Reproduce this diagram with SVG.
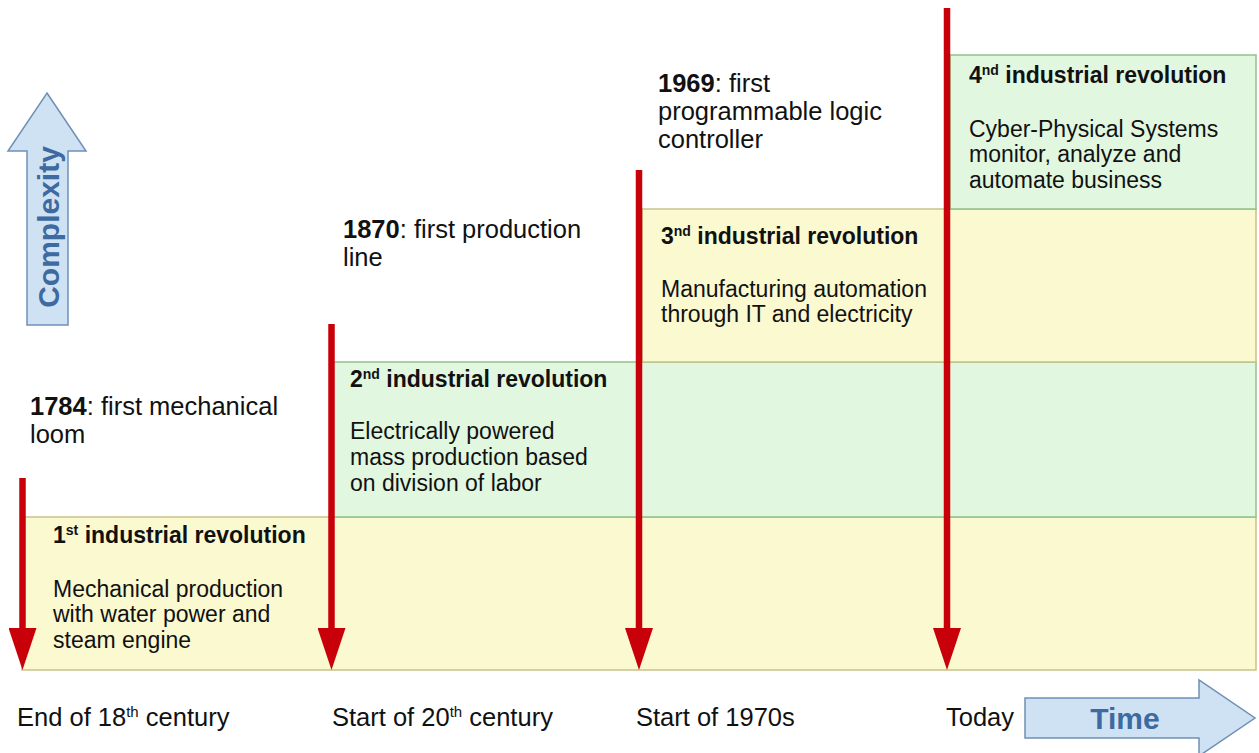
<svg xmlns="http://www.w3.org/2000/svg" width="1259" height="753" viewBox="0 0 1259 753">
<defs>
<style>
text{font-family:"Liberation Sans",Arial,sans-serif;fill:#111;}
.lbl{font-size:25.5px;}
.ttl{font-size:23px;font-weight:bold;}
.body{font-size:23px;}
.bot{font-size:25.5px;}
.big{font-size:30px;font-weight:bold;fill:#3d6aa0;}
.yel{fill:#fbf9d0;stroke:#c9c28a;stroke-width:1.5;}
.grn{fill:#e2f7e0;stroke:#8fc28c;stroke-width:1.5;}
.blu{fill:#cfe2f3;stroke:#6f90b6;stroke-width:1.5;}
.red{stroke:#c8000a;stroke-width:6.5;fill:none;}
</style>
<marker id="ah" markerUnits="userSpaceOnUse" markerWidth="42" markerHeight="28" viewBox="0 0 42 28" refX="0" refY="14" orient="auto">
<path d="M0,0 L42,14 L0,28 Z" fill="#c8000a"/>
</marker>
</defs>
<rect width="1259" height="753" fill="#fff"/>

<g id="band1">
<rect class="yel" x="22" y="517" width="1234" height="153"/>
<text class="ttl" x="53" y="543">1<tspan font-size="14" dy="-8">st</tspan><tspan dy="8"> industrial revolution</tspan></text>
<text class="body" x="53" y="597">Mechanical production</text>
<text class="body" x="53" y="622">with water power and</text>
<text class="body" x="53" y="648">steam engine</text>
</g>
<g id="band2">
<rect class="grn" x="333" y="362" width="923" height="155"/>
<text class="ttl" x="350" y="387">2<tspan font-size="14" dy="-8">nd</tspan><tspan dy="8"> industrial revolution</tspan></text>
<text class="body" x="350" y="439">Electrically powered</text>
<text class="body" x="350" y="465">mass production based</text>
<text class="body" x="350" y="491">on division of labor</text>
</g>
<g id="band3">
<rect class="yel" x="642" y="209" width="614" height="153"/>
<text class="ttl" x="661" y="244">3<tspan font-size="14" dy="-8">nd</tspan><tspan dy="8"> industrial revolution</tspan></text>
<text class="body" x="661" y="297">Manufacturing automation</text>
<text class="body" x="661" y="322">through IT and electricity</text>
</g>
<g id="band4">
<rect class="grn" x="950" y="55" width="306" height="154"/>
<text class="ttl" x="969" y="83">4<tspan font-size="14" dy="-8">nd</tspan><tspan dy="8"> industrial revolution</tspan></text>
<text class="body" x="969" y="137">Cyber-Physical Systems</text>
<text class="body" x="969" y="162">monitor, analyze and</text>
<text class="body" x="969" y="188">automate business</text>
</g>

<g id="event1784">
<text class="lbl" x="30" y="415"><tspan font-weight="bold">1784</tspan>: first mechanical</text>
<text class="lbl" x="30" y="443">loom</text>
</g>
<g id="event1870">
<text class="lbl" x="343" y="238"><tspan font-weight="bold">1870</tspan>: first production</text>
<text class="lbl" x="343" y="266">line</text>
</g>
<g id="event1969">
<text class="lbl" x="658" y="92"><tspan font-weight="bold">1969</tspan>: first</text>
<text class="lbl" x="658" y="120">programmable logic</text>
<text class="lbl" x="658" y="148">controller</text>
</g>

<g id="complexity">
<path class="blu" d="M47,93 L86,151 L68,151 L68,325 L27,325 L27,151 L8,151 Z"/>
<text class="big" text-anchor="middle" transform="translate(59,227) rotate(-90)">Complexity</text>
</g>
<g id="time">
<path class="blu" d="M1025,698 L1199,698 L1199,680 L1255,718 L1199,756 L1199,738 L1025,738 Z"/>
<text class="big" x="1125" y="729" text-anchor="middle">Time</text>
</g>

<g id="axis-labels">
<text class="bot" x="17" y="726">End of 18<tspan font-size="15" dy="-9">th</tspan><tspan dy="9"> century</tspan></text>
<text class="bot" x="332" y="726">Start of 20<tspan font-size="15" dy="-9">th</tspan><tspan dy="9"> century</tspan></text>
<text class="bot" x="636" y="726">Start of 1970s</text>
<text class="bot" x="946" y="726">Today</text>
</g>

<g id="connectors">
<line class="red" x1="22.5" y1="478" x2="22.5" y2="628" marker-end="url(#ah)"/>
<line class="red" x1="331.5" y1="324" x2="331.5" y2="628" marker-end="url(#ah)"/>
<line class="red" x1="639" y1="170" x2="639" y2="628" marker-end="url(#ah)"/>
<line class="red" x1="947" y1="8" x2="947" y2="628" marker-end="url(#ah)"/>
</g>
</svg>
